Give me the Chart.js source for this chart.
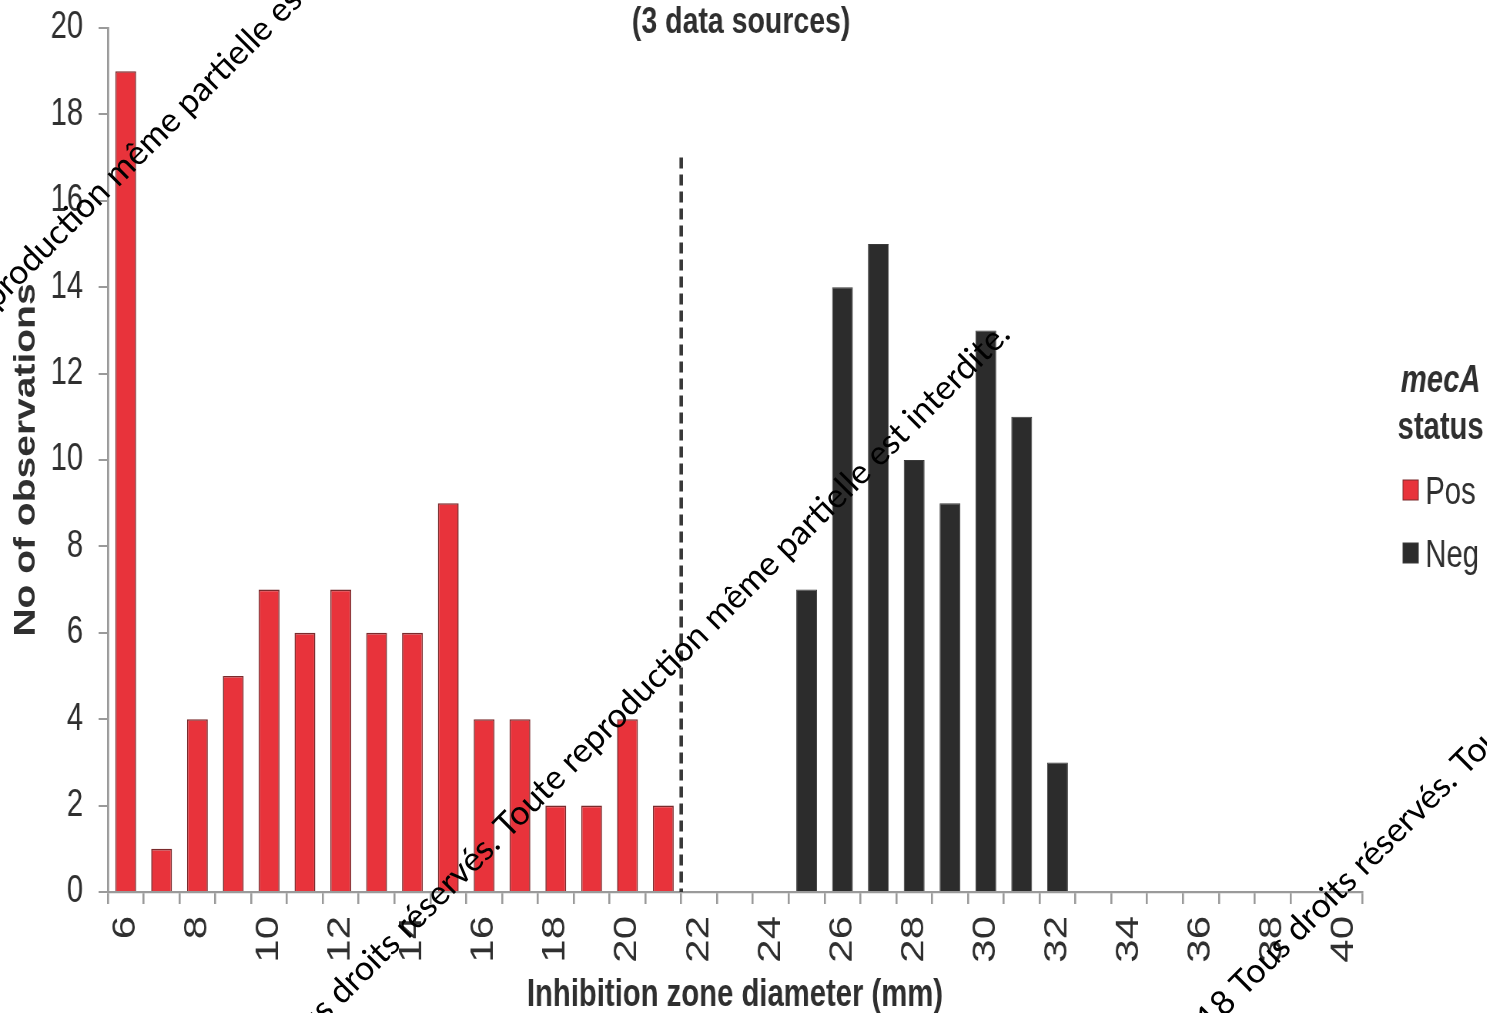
<!DOCTYPE html>
<html>
<head>
<meta charset="utf-8">
<title>Inhibition zone diameter by mecA status</title>
<script src="https://cdn.jsdelivr.net/npm/chart.js@4/dist/chart.umd.min.js"></script>
<style>
  html, body { margin: 0; padding: 0; background: #fff; overflow: hidden; width: 1487px; height: 1013px; }
  /* the figure is drawn on a wider canvas and narrowed horizontally, giving its condensed lettering */
  #wrap { position: absolute; left: 0; top: 0; width: 1931px; height: 1013px; transform: scaleX(0.77); transform-origin: 0 0; }
  #notice { position: absolute; left: 0; top: 0; pointer-events: none; }
</style>
</head>
<body>
<div id="wrap"><canvas id="chart" width="1931" height="1013"></canvas></div>
<canvas id="notice" width="1487" height="1013"></canvas>
<script>
// Inhibition zone diameters (mm), one bin per millimetre
const diameters = ['6','7','8','9','10','11','12','13','14','15','16','17','18','19','20',
                   '21','22','23','24','25','26','27','28','29','30','31','32','33','34',
                   '35','36','37','38','39','40'];

// Number of isolates per diameter, mecA positive
const mecaPos = [19, 1, 4, 5, 7, 6, 7, 6, 6, 9, 4, 4, 2, 2, 4, 2,
                 null, null, null, null, null, null, null, null, null, null,
                 null, null, null, null, null, null, null, null, null];

// Number of isolates per diameter, mecA negative
const mecaNeg = [null, null, null, null, null, null, null, null, null, null,
                 null, null, null, null, null, null, null, null, null,
                 7, 14, 15, 10, 9, 13, 11, 3,
                 null, null, null, null, null, null, null, null];

// Breakpoint between the two populations (drawn as a dashed line)
const breakpointBins = ['21', '22'];
const breakpointTop = 17;

const yTicks = { min: 0, max: 20, step: 2 };
const subtitle = '(3 data sources)';
const xTitle = 'Inhibition zone diameter (mm)';
const yTitle = 'No of observations';
const keyTitle = ['mecA', 'status'];

const FONT = "'Liberation Sans', Arial, Helvetica, sans-serif";
const INK = '#2f2f2f';
const AXIS = '#9a9a9a';
Chart.defaults.font.family = FONT;
Chart.defaults.color = INK;

const breakpointLine = {
  id: 'breakpointLine',
  afterDatasetsDraw(chart) {
    const { ctx, scales: { x, y } } = chart;
    const px = (x.getPixelForValue(diameters.indexOf(breakpointBins[0])) +
                x.getPixelForValue(diameters.indexOf(breakpointBins[1]))) / 2;
    ctx.save();
    ctx.strokeStyle = '#383838';
    ctx.lineWidth = 4.6;
    ctx.setLineDash([11, 6]);
    ctx.beginPath();
    ctx.moveTo(px, y.getPixelForValue(breakpointTop));
    ctx.lineTo(px, y.getPixelForValue(0));
    ctx.stroke();
    ctx.restore();
  }
};

const headerAndKey = {
  id: 'headerAndKey',
  afterDraw(chart) {
    const { ctx, chartArea } = chart;
    ctx.save();
    ctx.fillStyle = INK;
    ctx.textAlign = 'center';
    ctx.textBaseline = 'alphabetic';
    ctx.font = `bold 37px ${FONT}`;
    ctx.fillText(subtitle, (chartArea.left + chartArea.right) / 2 + 8, 33);

    // key
    const cx = chart.width - 60;
    ctx.font = `italic bold 38px ${FONT}`;
    ctx.fillText(keyTitle[0], cx, 392);
    ctx.font = `bold 38px ${FONT}`;
    ctx.fillText(keyTitle[1], cx, 439);

    ctx.textAlign = 'left';
    ctx.font = `38px ${FONT}`;
    const rows = [490, 553];
    chart.data.datasets.forEach((ds, i) => {
      const cy = rows[i];
      ctx.fillStyle = ds.backgroundColor;
      ctx.fillRect(1822, cy - 10, 20, 20);
      ctx.strokeStyle = ds.borderColor;
      ctx.lineWidth = 1;
      ctx.strokeRect(1822, cy - 10, 20, 20);
      ctx.fillStyle = INK;
      ctx.fillText(ds.label, 1851, cy + 14);
    });
    ctx.restore();
  }
};

new Chart(document.getElementById('chart'), {
  type: 'bar',
  data: {
    labels: diameters,
    datasets: [
      { label: 'Pos', data: mecaPos, backgroundColor: '#e8333b', borderColor: '#7a2a2c',
        borderWidth: 1.6, barPercentage: 0.58, categoryPercentage: 1 },
      { label: 'Neg', data: mecaNeg, backgroundColor: '#2c2c2c', borderColor: '#3a3a3a',
        borderWidth: 1, barPercentage: 0.58, categoryPercentage: 1 }
    ]
  },
  options: {
    responsive: false,
    animation: false,
    devicePixelRatio: 1,
    layout: { padding: { top: 28, right: 162, bottom: 0, left: 0 } },
    plugins: { legend: { display: false }, title: { display: false }, tooltip: { enabled: false } },
    scales: {
      x: {
        stacked: true,
        grid: { drawOnChartArea: false, drawTicks: true, tickLength: 12, color: AXIS, lineWidth: 2.6, offset: true },
        border: { display: true, color: AXIS, width: 2.2 },
        ticks: {
          autoSkip: false, maxRotation: 90, minRotation: 90, padding: 12,
          font: { size: 42 }, color: INK,
          callback: (v, i) => (Number(diameters[i]) % 2 === 0 ? diameters[i] : '')
        },
        title: { display: true, text: xTitle, color: INK, font: { size: 38, weight: 'bold' }, padding: { top: 0, bottom: -5 } },
        afterFit: s => { s.height = 121; }
      },
      y: {
        stacked: true,
        min: yTicks.min, max: yTicks.max,
        grid: { drawOnChartArea: false, drawTicks: true, tickLength: 12, color: AXIS, lineWidth: 2 },
        border: { display: true, color: AXIS, width: 2.8 },
        ticks: { stepSize: yTicks.step, padding: 20, font: { size: 38 }, color: INK },
        title: { display: true, text: yTitle, color: INK, font: { size: 39, weight: 'bold' }, padding: { top: 11, bottom: 0 } },
        afterFit: s => { s.width = 140; s.paddingTop = 0; s.paddingBottom = 0; }
      }
    }
  },
  plugins: [breakpointLine, headerAndKey]
});

// copyright notice printed diagonally across the page
const notice = '© 2018 Tous droits réservés. Toute reproduction même partielle est interdite.';
const noticeLines = [
  { anchor: 'même', x: 118, y: 188 },
  { anchor: null, x: 1012, y: 336 },
  { anchor: 'Tous', x: 1244, y: 998 }
];
(function drawNotice() {
  const c = document.getElementById('notice').getContext('2d');
  c.font = "34px Lato, 'Open Sans', sans-serif";
  c.fillStyle = '#000';
  c.textBaseline = 'alphabetic';
  noticeLines.forEach(l => {
    const prefix = l.anchor === null ? notice : notice.slice(0, notice.indexOf(l.anchor));
    const off = c.measureText(prefix).width;
    c.save();
    c.translate(l.x, l.y);
    c.rotate(-Math.PI / 4);
    c.fillText(notice, -off, 0);
    c.restore();
  });
})();
</script>
</body>
</html>
